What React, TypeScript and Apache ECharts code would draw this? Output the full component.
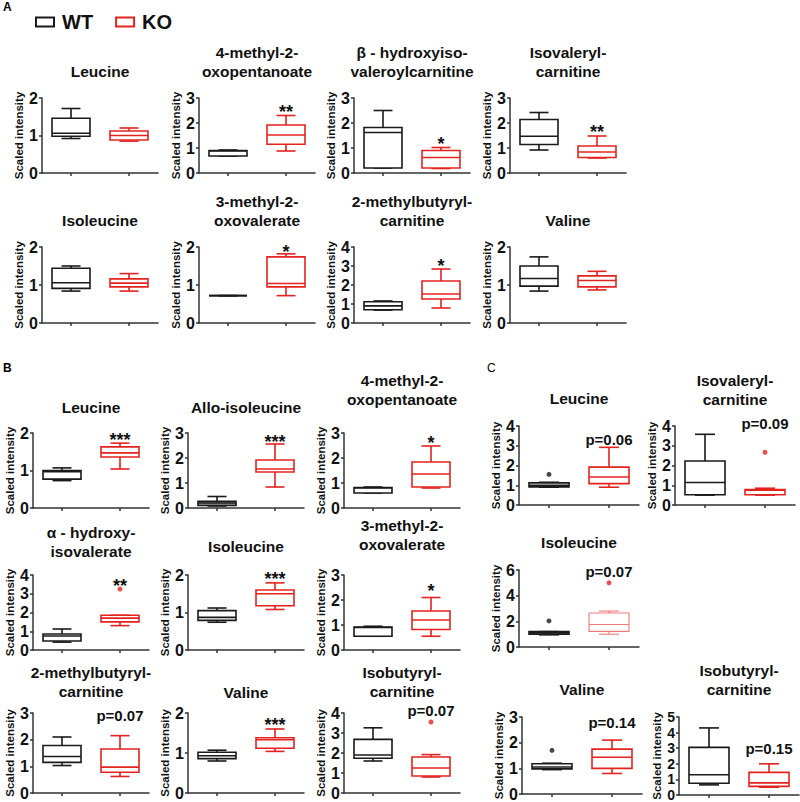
import React, { useEffect, useRef } from 'react';
import * as echarts from 'echarts';

const FONT = 'Arial, "Liberation Sans", Helvetica, sans-serif';
const BLACK = '#1a1a1a';
const RED = '#e3231f';
const TXT = '#111';

const groups = ['WT', 'KO'];

// ---------- Panel A ----------
const aTitles = [
  'Leucine', '4-methyl-2-\noxopentanoate', 'β - hydroxyiso-\nvaleroylcarnitine', 'Isovaleryl-\ncarnitine',
  'Isoleucine', '3-methyl-2-\noxovalerate', '2-methylbutyryl-\ncarnitine', 'Valine',
];
const aMax = [2, 3, 3, 3, 2, 2, 4, 2];
const aStep = [1, 1, 1, 1, 1, 1, 1, 1];
// [min, Q1, median, Q3, max]
const aWT = [
  [0.92, 0.98, 1.06, 1.46, 1.72],
  [0.68, 0.68, 0.88, 0.9, 0.92],
  [0.2, 0.2, 1.62, 1.82, 2.5],
  [0.92, 1.14, 1.47, 2.14, 2.42],
  [0.84, 0.91, 1.06, 1.44, 1.5],
  [0.72, 0.72, 0.72, 0.72, 0.72],
  [0.68, 0.7, 0.9, 1.12, 1.16],
  [0.84, 0.97, 1.17, 1.5, 1.74],
];
const aKO = [
  [0.85, 0.88, 1.0, 1.12, 1.2],
  [0.88, 1.15, 1.52, 1.92, 2.3],
  [0.18, 0.2, 0.62, 0.9, 1.02],
  [0.6, 0.62, 0.84, 1.08, 1.48],
  [0.84, 0.95, 1.05, 1.16, 1.3],
  [0.72, 0.95, 1.04, 1.74, 1.82],
  [0.79, 1.26, 1.53, 2.21, 2.84],
  [0.87, 0.95, 1.12, 1.24, 1.36],
];
const aSig = ['', '**', '*', '**', '', '*', '*', ''];
const aSigY = [0, 2.6, 1.32, 1.8, 0, 1.97, 3.2, 0];

// ---------- Panel B ----------
const bTitles = [
  'Leucine', 'Allo-isoleucine', '4-methyl-2-\noxopentanoate',
  'α - hydroxy-\nisovalerate', 'Isoleucine', '3-methyl-2-\noxovalerate',
  '2-methylbutyryl-\ncarnitine', 'Valine', 'Isobutyryl-\ncarnitine',
];
const bMax = [2, 3, 3, 4, 2, 3, 3, 2, 4];
const bStep = [1, 1, 1, 1, 1, 1, 1, 1, 1];
const bWT = [
  [0.73, 0.77, 0.97, 1.0, 1.07],
  [0.08, 0.1, 0.2, 0.27, 0.46],
  [0.6, 0.6, 0.8, 0.82, 0.84],
  [0.42, 0.48, 0.75, 0.85, 1.12],
  [0.74, 0.79, 0.87, 1.05, 1.12],
  [0.55, 0.55, 0.9, 0.92, 0.95],
  [1.03, 1.15, 1.37, 1.78, 2.1],
  [0.8, 0.86, 0.93, 1.02, 1.07],
  [1.6, 1.74, 1.9, 2.68, 3.26],
];
const bKO = [
  [1.04, 1.36, 1.47, 1.63, 1.73],
  [0.84, 1.44, 1.56, 1.92, 2.56],
  [0.8, 0.84, 1.36, 1.84, 2.48],
  [1.3, 1.5, 1.7, 1.85, 1.85],
  [1.08, 1.18, 1.5, 1.6, 1.79],
  [0.55, 0.82, 1.2, 1.56, 2.1],
  [0.62, 0.78, 0.97, 1.65, 2.15],
  [1.04, 1.12, 1.33, 1.38, 1.6],
  [0.8, 0.85, 1.25, 1.8, 1.92],
];
const bKOOutliers = [null, null, null, 3.25, null, null, null, null, 3.55];
const bSig = ['***', '***', '*', '**', '***', '*', 'p=0.07', '***', 'p=0.07'];
const bSigY = [1.92, 2.8, 2.76, 3.63, 2.0, 2.52, 2.92, 1.8, 4.15];

// ---------- Panel C ----------
const cTitles = ['Leucine', 'Isovaleryl-\ncarnitine', 'Isoleucine', 'Valine', 'Isobutyryl-\ncarnitine'];
const cMax = [4, 4, 6, 3, 5];
const cStep = [1, 1, 2, 1, 1];
const cWT = [
  [0.9, 0.92, 1.0, 1.12, 1.15],
  [0.5, 0.52, 1.14, 2.23, 3.58],
  [0.95, 1.0, 1.1, 1.2, 1.2],
  [0.95, 0.98, 1.05, 1.18, 1.2],
  [0.65, 0.75, 1.3, 3.05, 4.3],
];
const cKO = [
  [0.9, 1.08, 1.42, 1.92, 2.92],
  [0.5, 0.52, 0.75, 0.78, 0.85],
  [1.0, 1.22, 1.75, 2.65, 2.8],
  [0.8, 1.0, 1.43, 1.75, 2.1],
  [0.5, 0.55, 0.78, 1.45, 2.0],
];
const cWTOutliers = [1.55, null, 2.03, 1.7, null];
const cKOOutliers = [null, 2.67, 5.0, null, null];
const cSig = ['p=0.06', 'p=0.09', 'p=0.07', 'p=0.14', 'p=0.15'];
const cSigY = [3.3, 4.15, 5.9, 2.77, 2.95];

// ---------- Layout (positions only) ----------
const aCols = [42, 199, 354, 510];
const aRowTops = [98, 247];
const aRowHeights = [75, 76];
const aTitleBottoms = [81, 230];
const bCols = [33, 188, 344];
const bRowTops = [433, 575, 713];
const bRowHeights = [75, 75, 80];
const bTitleBottoms = [417, 417, 409, 561, 556, 554, 701, 702, 701];
const cLayout = [
  [519, 426, 79, 408],
  [675, 426, 79, 409],
  [519, 570, 77, 552],
  [522, 717, 78, 699],
  [679, 717, 78, 699],
];

type Spec = {
  title: string; max: number; step: number; wt: number[]; ko: number[];
  wtOut: number | null; koOut: number | null; sig: string; sigY: number;
  left: number; top: number; height: number; width: number; titleBottom: number;
  boxW: number; wtFill: string; koStroke: string; koLW: number;
};

const specs: Spec[] = [];
aTitles.forEach((t, i) => {
  const r = Math.floor(i / 4), c = i % 4;
  specs.push({
    title: t, max: aMax[i], step: aStep[i], wt: aWT[i], ko: aKO[i], wtOut: null, koOut: null,
    sig: aSig[i], sigY: aSigY[i], left: aCols[c], top: aRowTops[r], height: aRowHeights[r], width: 116,
    titleBottom: aTitleBottoms[r], boxW: 38, wtFill: '#fff', koStroke: RED, koLW: 1.6,
  });
});
bTitles.forEach((t, i) => {
  const r = Math.floor(i / 3), c = i % 3;
  specs.push({
    title: t, max: bMax[i], step: bStep[i], wt: bWT[i], ko: bKO[i], wtOut: null, koOut: bKOOutliers[i],
    sig: bSig[i], sigY: bSigY[i], left: bCols[c], top: bRowTops[r], height: bRowHeights[r], width: 116,
    titleBottom: bTitleBottoms[i], boxW: 38, wtFill: i === 1 ? '#9a9a9a' : '#fff', koStroke: RED, koLW: 1.6,
  });
});
cTitles.forEach((t, i) => {
  const L = cLayout[i];
  specs.push({
    title: t, max: cMax[i], step: cStep[i], wt: cWT[i], ko: cKO[i], wtOut: cWTOutliers[i], koOut: cKOOutliers[i],
    sig: cSig[i], sigY: cSigY[i], left: L[0], top: L[1], height: L[2], width: 120,
    titleBottom: L[3], boxW: 40, wtFill: '#fff', koStroke: i === 2 ? '#f07a7a' : RED, koLW: i === 2 ? 1.1 : 1.6,
  });
});

function boxRenderer(stroke: string, fill: string, lw: number, bw: number) {
  return (_params: any, api: any) => {
    const c = api.value(0);
    const p = (v: number) => api.coord([c, v]);
    const x = p(api.value(1))[0];
    const yMin = p(api.value(1))[1];
    const yQ1 = p(api.value(2))[1];
    const yMed = p(api.value(3))[1];
    const yQ3 = p(api.value(4))[1];
    const yMax = p(api.value(5))[1];
    const h = bw / 2;
    const cap = bw / 4;
    const ls = { stroke, lineWidth: lw, fill: 'none' };
    return {
      type: 'group',
      children: [
        { type: 'line', shape: { x1: x, y1: yMax, x2: x, y2: yQ3 }, style: ls },
        { type: 'line', shape: { x1: x - cap, y1: yMax, x2: x + cap, y2: yMax }, style: ls },
        { type: 'line', shape: { x1: x, y1: yQ1, x2: x, y2: yMin }, style: ls },
        { type: 'line', shape: { x1: x - cap, y1: yMin, x2: x + cap, y2: yMin }, style: ls },
        { type: 'rect', shape: { x: x - h, y: yQ3, width: bw, height: yQ1 - yQ3 }, style: { stroke, lineWidth: lw, fill } },
        { type: 'line', shape: { x1: x - h, y1: yMed, x2: x + h, y2: yMed }, style: ls },
      ],
    };
  };
}

function sigRenderer(text: string) {
  const isStar = text.indexOf('*') === 0;
  const fontSize = isStar ? 18 : 15;
  const dy = isStar ? 4 : 0;
  return (_params: any, api: any) => {
    const pt = api.coord([api.value(0), api.value(1)]);
    return {
      type: 'text',
      x: pt[0],
      y: pt[1] + dy,
      style: {
        text, align: 'center', verticalAlign: 'middle', textAlign: 'center', textVerticalAlign: 'middle',
        fontSize, fontWeight: 'bold', fontFamily: FONT, fill: TXT,
      },
    };
  };
}

function buildOption() {
  const axisLineStyle = { color: '#333', width: 1.5 };
  const grid = specs.map((s) => ({ left: s.left, top: s.top, width: s.width, height: s.height }));
  const xAxis = specs.map((_s, i) => ({
    type: 'category', gridIndex: i, data: groups, boundaryGap: true,
    axisLine: { lineStyle: axisLineStyle },
    axisTick: { show: true, alignWithLabel: true, length: 3, lineStyle: axisLineStyle },
    axisLabel: { show: false },
    splitLine: { show: false },
  }));
  const yAxis = specs.map((s, i) => {
    const pxPerTick = (s.height * s.step) / s.max;
    const fs = pxPerTick < 18 ? 14 : 16;
    return {
      type: 'value', gridIndex: i, min: 0, max: s.max, interval: s.step,
      splitLine: { show: false },
      axisLine: { show: true, lineStyle: axisLineStyle },
      axisTick: { show: true, length: 3, lineStyle: axisLineStyle },
      axisLabel: {
        fontSize: fs, fontWeight: 'bold', color: TXT, fontFamily: FONT, margin: 4,
        showMinLabel: true, showMaxLabel: true, hideOverlap: false, interval: 0, lineHeight: 12,
      },
      name: 'Scaled intensity', nameLocation: 'middle', nameGap: 14, nameRotate: 90,
      nameTextStyle: { fontSize: 11.5, fontWeight: 'bold', color: TXT, fontFamily: FONT },
    };
  });
  const series: any[] = [];
  specs.forEach((s, i) => {
    series.push({
      type: 'custom', name: 'WT', xAxisIndex: i, yAxisIndex: i,
      renderItem: boxRenderer(BLACK, s.wtFill, 1.6, s.boxW),
      data: [[0, ...s.wt]], encode: { x: 0, y: [1, 2, 3, 4, 5] }, itemStyle: { color: BLACK }, z: 3,
    });
    series.push({
      type: 'custom', name: 'KO', xAxisIndex: i, yAxisIndex: i,
      renderItem: boxRenderer(s.koStroke, '#fff', s.koLW, s.boxW),
      data: [[1, ...s.ko]], encode: { x: 0, y: [1, 2, 3, 4, 5] }, itemStyle: { color: RED }, z: 3,
    });
    if (s.wtOut !== null) {
      series.push({
        type: 'scatter', name: 'WT outlier', xAxisIndex: i, yAxisIndex: i,
        data: [[0, s.wtOut]], symbolSize: 5, itemStyle: { color: BLACK }, z: 4,
      });
    }
    if (s.koOut !== null) {
      series.push({
        type: 'scatter', name: 'KO outlier', xAxisIndex: i, yAxisIndex: i,
        data: [[1, s.koOut]], symbolSize: 5, itemStyle: { color: RED }, z: 4,
      });
    }
    if (s.sig) {
      series.push({
        type: 'custom', name: 'significance', xAxisIndex: i, yAxisIndex: i,
        renderItem: sigRenderer(s.sig), data: [[1, s.sigY]], encode: { x: 0, y: 1 }, z: 5,
      });
    }
  });
  const title = specs.map((s) => ({
    text: s.title, left: s.left + s.width / 2, top: s.titleBottom, textAlign: 'center', textVerticalAlign: 'bottom',
    padding: 0,
    textStyle: { fontSize: 15.5, fontWeight: 'bold', color: TXT, fontFamily: FONT, lineHeight: 19 },
  }));
  return {
    animation: false,
    backgroundColor: '#fff',
    title,
    grid,
    xAxis,
    yAxis,
    series,
    legend: {
      left: 35, top: 12, itemWidth: 18, itemHeight: 9, itemGap: 22, padding: 0, selectedMode: false,
      data: [
        { name: 'WT', icon: 'rect', itemStyle: { color: '#fff', borderColor: BLACK, borderWidth: 2 } },
        { name: 'KO', icon: 'rect', itemStyle: { color: '#fff', borderColor: RED, borderWidth: 2 } },
      ],
      textStyle: { fontSize: 20, fontWeight: 'bold', color: TXT, fontFamily: FONT, padding: [0, 0, 0, 3] },
    },
    graphic: [
      { type: 'text', x: 3, y: 7, style: { text: 'A', fontSize: 12, fontWeight: 'bold', fontFamily: FONT, fill: '#000', verticalAlign: 'middle', textVerticalAlign: 'middle' } },
      { type: 'text', x: 3, y: 368, style: { text: 'B', fontSize: 12, fontWeight: 'bold', fontFamily: FONT, fill: '#000', verticalAlign: 'middle', textVerticalAlign: 'middle' } },
      { type: 'text', x: 487, y: 368, style: { text: 'C', fontSize: 12, fontWeight: 'normal', fontFamily: FONT, fill: '#000', verticalAlign: 'middle', textVerticalAlign: 'middle' } },
    ],
  };
}

export default function App() {
  const ref = useRef<HTMLDivElement>(null);
  useEffect(() => {
    if (!ref.current) return;
    const chart = echarts.init(ref.current, undefined, { renderer: 'svg' });
    chart.setOption(buildOption() as any);
    return () => chart.dispose();
  }, []);
  return (
    <div
      ref={ref}
      style={{ position: 'fixed', left: 0, top: 0, width: 800, height: 802, background: '#fff' }}
    />
  );
}
